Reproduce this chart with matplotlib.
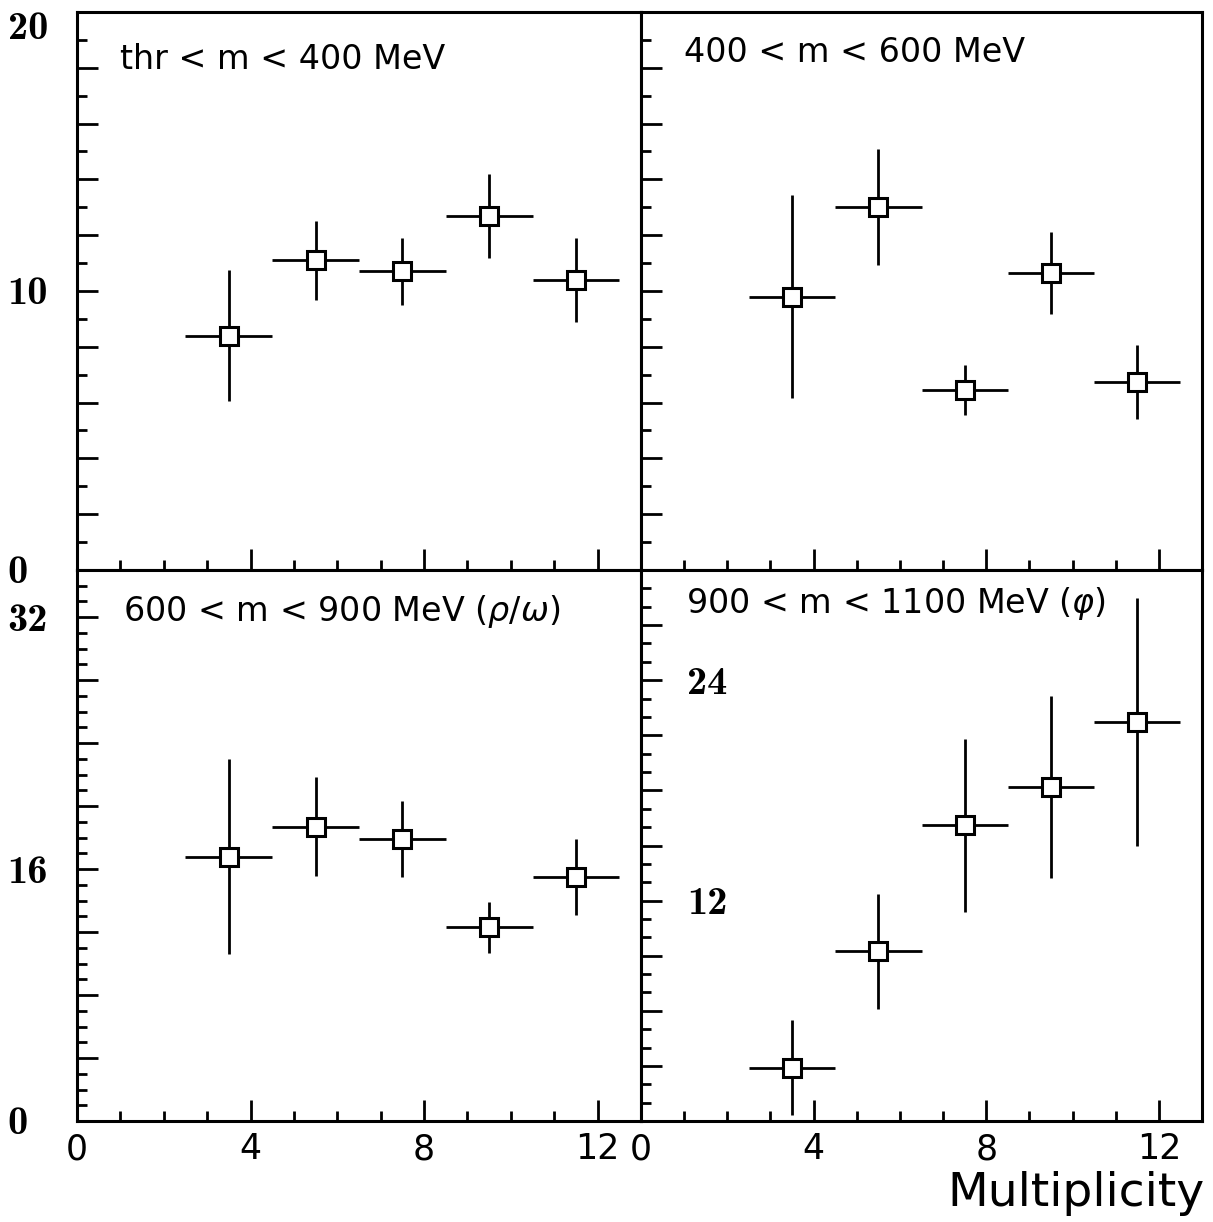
import matplotlib
matplotlib.use("Agg")
import matplotlib.pyplot as plt
from matplotlib.ticker import MultipleLocator

# multiplicity bins (centre, half width)
bins = [3.5, 5.5, 7.5, 9.5, 11.5]
bin_half = [1, 1, 1, 1, 1]

# yields per mass window
low_mass = [8.4, 11.1, 10.7, 12.7, 10.4]
low_mass_err = [2.35, 1.42, 1.2, 1.5, 1.5]

mid_mass = [9.8, 13.0, 6.45, 10.65, 6.75]
mid_mass_err = [3.65, 2.08, 0.88, 1.48, 1.32]

rho_omega = [16.8, 18.7, 17.9, 12.3, 15.5]
rho_omega_err = [6.2, 3.15, 2.4, 1.62, 2.4]

phi = [2.9, 9.25, 16.1, 18.2, 21.7]
phi_err = [2.6, 3.13, 4.7, 4.95, 6.75]

titles = ["thr < m < 400 MeV",
          "400 < m < 600 MeV",
          r"600 < m < 900 MeV ($\rho/\omega$)",
          r"900 < m < 1100 MeV ($\varphi$)"]

# y ranges, major tick step and which majors get a label
y_top = [20, 20, 35, 30]
y_step = [2, 2, 4, 3]
y_labelled = [[0, 10, 20], [], [0, 16, 32], [12, 24]]

W, H = 1213, 1222
L, M, R = 77 / W, 641 / W, 1202 / W
T, C, B = 1 - 12 / H, 1 - 570 / H, 1 - 1121 / H

fig = plt.figure(figsize=(W / 100, H / 100), dpi=100)
boxes = [[L, C, M - L, T - C], [M, C, R - M, T - C],
         [L, B, M - L, C - B], [M, B, R - M, C - B]]
series = [(low_mass, low_mass_err), (mid_mass, mid_mass_err),
          (rho_omega, rho_omega_err), (phi, phi_err)]
title_pos = [(0.076, 0.914), (0.077, 0.928), (0.082, 0.924), (0.080, 0.940)]

for i, box in enumerate(boxes):
    ax = fig.add_axes(box)
    y, err = series[i]
    ax.errorbar(bins, y, xerr=bin_half, yerr=err, fmt="s", ms=13.5, mfc="white",
                mec="black", mew=2.2, ecolor="black", elinewidth=2, capsize=0)
    ax.set_xlim(0, 13)
    ax.set_ylim(0, y_top[i])
    for s in ax.spines.values():
        s.set_linewidth(2.2)

    ax.xaxis.set_major_locator(MultipleLocator(4))
    ax.xaxis.set_minor_locator(MultipleLocator(1))
    ax.yaxis.set_minor_locator(MultipleLocator(1))
    ticks = list(range(0, y_top[i] + 1, y_step[i]))
    labels = [str(t) if t in y_labelled[i] else "" for t in ticks]
    ax.set_yticks(ticks, labels)

    ax.tick_params(which="both", direction="in", top=False, right=False, width=2)
    ax.tick_params(which="major", length=15)
    ax.tick_params(which="minor", length=7.5)

    left_col = i in (0, 2)
    ax.tick_params(axis="y", pad=50 if left_col else -33)
    for lbl in ax.get_yticklabels():
        lbl.set_ha("left")
        lbl.set_fontfamily("cmb10")
        lbl.set_fontsize(29)
        if lbl.get_text() == "20":
            lbl.set_va("top")

    if i < 2:
        ax.tick_params(axis="x", labelbottom=False)
    else:
        ax.tick_params(axis="x", pad=8, labelsize=25)

    ax.text(title_pos[i][0], title_pos[i][1], titles[i], transform=ax.transAxes,
            ha="left", va="center", fontsize=24)

fig.text(1205 / W, 1 - 1193 / H, "Multiplicity", ha="right", va="center", fontsize=34)

fig.savefig("out.png", dpi=100)
